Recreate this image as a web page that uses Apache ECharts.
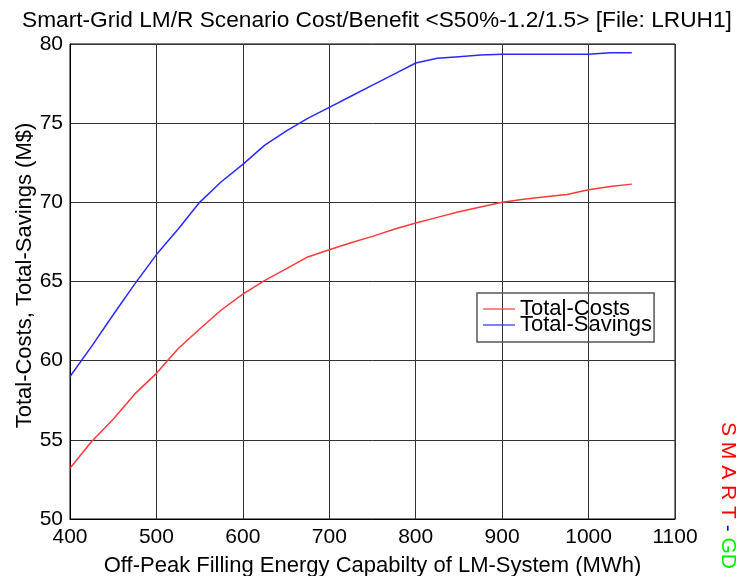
<!DOCTYPE html>
<html>
<head>
<meta charset="utf-8">
<script src="https://cdn.jsdelivr.net/npm/echarts@6/dist/echarts.min.js"></script>
<style>html,body{margin:0;padding:0;background:#fff;}#c{width:739px;height:576px;}</style>
</head>
<body>
<div id="c"></div>
<script>
var xValues = [400,425,450,475,500,525,550,575,600,625,650,675,700,725,750,775,800,825,850,875,900,925,950,975,1000,1025,1050];
var totalCosts = [53.2,54.9,56.3,57.9,59.2,60.75,62.0,63.2,64.2,65.05,65.8,66.55,67.0,67.45,67.85,68.3,68.7,69.05,69.4,69.7,70.0,70.2,70.35,70.5,70.8,71.0,71.15];
var totalSavings = [59.0,60.9,62.9,64.85,66.7,68.3,70.0,71.3,72.4,73.6,74.5,75.3,76.0,76.7,77.4,78.1,78.8,79.1,79.2,79.3,79.35,79.35,79.35,79.35,79.35,79.45,79.45];
var seriesNames = ['Total-Costs','Total-Savings'];
var titleText = 'Smart-Grid LM/R Scenario Cost/Benefit <S50%-1.2/1.5> [File: LRUH1]';
var xName = 'Off-Peak Filling Energy Capabilty of LM-System (MWh)';
var yName = 'Total-Costs, Total-Savings (M$)';

function pairs(ys){ return xValues.map(function(x,i){ return [x, ys[i]]; }); }
var F = 'Liberation Sans, Arial, sans-serif';
var chart = echarts.init(document.getElementById('c'), null, {renderer:'canvas'});
chart.setOption({
  animation: false,
  backgroundColor: '#fff',
  title: {
    text: titleText, left: 17, top: 4,
    textStyle: {fontFamily: F, fontSize: 22.7, fontWeight: 'normal', color: '#000'}
  },
  grid: {left: 70, top: 44, width: 605, height: 475, show: true, borderColor: '#000', borderWidth: 1,
         backgroundColor: 'transparent', containLabel: false, outerBoundsMode: 'none'},
  xAxis: {
    type: 'value', min: 400, max: 1100, interval: 100,
    name: xName, nameLocation: 'middle', nameGap: 36, nameMoveOverlap: false,
    nameTextStyle: {fontFamily: F, fontSize: 22, color: '#000'},
    axisLine: {lineStyle: {color: '#000', width: 1}},
    axisTick: {show: false},
    axisLabel: {fontFamily: F, fontSize: 21, color: '#000', margin: 8, formatter: function(v){ return String(v); }},
    splitLine: {show: true, lineStyle: {color: '#333', width: 1}}
  },
  yAxis: {
    type: 'value', min: 50, max: 80, interval: 5,
    name: yName, nameLocation: 'middle', nameGap: 34, nameMoveOverlap: false,
    nameTextStyle: {fontFamily: F, fontSize: 22, color: '#000', padding: [0, 0, 0, 12]},
    axisLine: {lineStyle: {color: '#000', width: 1}},
    axisTick: {show: false},
    axisLabel: {fontFamily: F, fontSize: 21, color: '#000', margin: 7},
    splitLine: {show: true, lineStyle: {color: '#333', width: 1}}
  },
  legend: {
    orient: 'vertical', left: 477, top: 293,
    padding: [5, 2, 6, 6], itemGap: -6,
    borderColor: '#555', borderWidth: 1.5,
    icon: 'rect', itemWidth: 32, itemHeight: 2,
    textStyle: {fontFamily: F, fontSize: 22, color: '#000'},
    itemStyle: {opacity: 0.6},
    data: seriesNames
  },
  series: [
    {name: seriesNames[0], type: 'line', data: pairs(totalCosts), showSymbol: false, symbol: 'none',
     lineStyle: {color: '#ff3a3a', width: 1.5}, itemStyle: {color: '#ff3a3a'}},
    {name: seriesNames[1], type: 'line', data: pairs(totalSavings), showSymbol: false, symbol: 'none',
     lineStyle: {color: '#2a2aff', width: 1.5}, itemStyle: {color: '#2a2aff'}}
  ],
  graphic: [{
    type: 'text', x: 738, y: 422, rotation: -Math.PI/2,
    style: {
      text: '{r|S M A R T} {b|-} {g|GD}',
      font: '21px ' + F,
      rich: {
        r: {fill: '#ff0000', fontSize: 21, fontFamily: F},
        b: {fill: '#0000ff', fontSize: 21, fontFamily: F},
        g: {fill: '#00ee00', fontSize: 21, fontFamily: F}
      }
    }
  }]
});
</script>
</body>
</html>
